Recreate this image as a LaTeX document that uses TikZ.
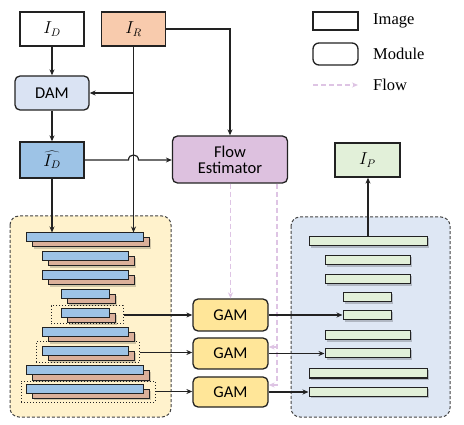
\documentclass[tikz,border=0pt]{standalone}
\usepackage{fontspec}
\setmainfont{Liberation Serif}
\newfontfamily\carlito{Carlito}
\usetikzlibrary{arrows.meta}
\definecolor{lc}{HTML}{222222}
\definecolor{orangef}{HTML}{F8CBAD}
\definecolor{damf}{HTML}{DAE3F3}
\definecolor{idhf}{HTML}{9DC3E6}
\definecolor{fef}{RGB}{221,193,223}
\definecolor{greenf}{HTML}{E2F0D9}
\definecolor{gamf}{HTML}{FFE699}
\definecolor{yellowbg}{HTML}{FFF2CC}
\definecolor{bluebg}{HTML}{DEE7F4}
\definecolor{flowc}{RGB}{222,196,228}
\definecolor{tanf}{RGB}{219,176,154}
\begin{document}
\begin{tikzpicture}[x=1pt,y=-1pt,
  box/.style={draw=lc, line width=1.3pt, inner sep=0pt},
  modbox/.style={box, rounded corners=5pt},
  sansl/.style={font=\carlito\fontsize{16.5}{19}\selectfont},
  mathl/.style={font=\fontsize{16}{19}\selectfont},
  legl/.style={font=\fontsize{16.5}{19}\selectfont, anchor=west, inner sep=3pt},
  arr/.style={draw=lc, line width=1.2pt, -{Stealth[length=6pt,width=5pt]}},
  flow/.style={draw=flowc, line width=1.3pt, dash pattern=on 5pt off 3pt, -{Stealth[length=6pt,width=5pt]}},
  group/.style={draw=lc!85, line width=1pt, dash pattern=on 3pt off 2pt, rounded corners=9pt},
  dotbox/.style={draw=lc, line width=1pt, dotted, inner sep=0pt},
  bluebar/.style={box, line width=1pt, fill=idhf},
  greenbar/.style={box, line width=1pt, fill=greenf},
]
\useasboundingbox (0,0) rectangle (464,425);

% group backgrounds
\draw[group, fill=yellowbg] (10,216) rectangle (171,417);
\draw[group, fill=bluebg] (291,217) rectangle (450,417);

% top nodes
\node[box, fill=white, minimum width=64pt, minimum height=34pt, mathl] (ID) at (52,29) {$I_D$};
\node[box, fill=orangef, minimum width=64pt, minimum height=34pt, mathl] (IR) at (133.5,29) {$I_R$};
\node[modbox, fill=damf, minimum width=74pt, minimum height=34pt, sansl] (DAM) at (52,93) {DAM};
\node[box, fill=idhf, minimum width=64pt, minimum height=36pt, mathl] (IDh) at (52,160) {$\widehat{I_D}$};
\node[modbox, fill=fef, minimum width=115pt, minimum height=47pt, sansl, align=center] (FE) at (230,159.5) {Flow\\[-3pt]Estimator};
\node[box, fill=greenf, minimum width=65pt, minimum height=34pt, mathl] (IP) at (367.5,160) {$I_P$};

% GAM modules
\node[modbox, fill=gamf, minimum width=75pt, minimum height=32pt, sansl] (GAM1) at (230.5,315) {GAM};
\node[modbox, fill=gamf, minimum width=75pt, minimum height=31pt, sansl] (GAM2) at (230.5,353.5) {GAM};
\node[modbox, fill=gamf, minimum width=75pt, minimum height=30pt, sansl] (GAM3) at (230.5,392) {GAM};

% dotted selection boxes
\node[dotbox, minimum width=72pt, minimum height=18pt] (d5) at (87,315) {};
\node[dotbox, minimum width=103pt, minimum height=21pt] (d7) at (87.5,352.5) {};
\node[dotbox, minimum width=134pt, minimum height=21pt] (d9) at (88,391.5) {};

% blue encoder bars with tan shadow
\foreach \n/\xa/\xb/\ya in {1/26/143/233, 2/42/128/252, 3/42/128/271, 4/61/109/290, 5/61/109/309, 6/42/128/328, 7/42/128/347, 8/26/143/366, 9/26/143/384}{
  \fill[black, opacity=0.18] ({\xa+7.5},{\ya+6.5}) rectangle ({\xb+7.8},{\ya+15.8});
  \draw[draw=lc, line width=1pt, fill=tanf] ({\xa+6},{\ya+5}) rectangle ({\xb+6},{\ya+14});
  \node[bluebar, minimum width={(\xb-\xa)*1pt}, minimum height=9pt] (b\n) at ({(\xa+\xb)/2},{\ya+4.5}) {};
}

% green decoder bars
\foreach \n/\xa/\xb/\ya in {1/309/427/237, 2/325/410/256, 3/325/410/275, 4/343/391/293, 5/343/391/311, 6/325/410/331, 7/325/410/349, 8/309/427/369, 9/309/427/387}{
  \fill[black, opacity=0.2] ({\xa+1.5},{\ya+1.5}) rectangle ({\xb+1.8},{\ya+10.8});
  \node[greenbar, minimum width={(\xb-\xa)*1pt}, minimum height=9pt] (g\n) at ({(\xa+\xb)/2},{\ya+4.5}) {};
}

% connectors
\draw[arr] (ID.south) -- (DAM.north);
\draw[arr] (DAM.south) -- (IDh.north);
\draw[arr] (IR.south) -- (IR.south |- b1.north);
\draw[arr] (IR.south |- DAM.east) -- (DAM.east);
\draw[arr] (IR.east) -| (FE.north);
\coordinate (hop) at (IDh.east -| IR.south);
\draw[arr] (IDh.east) -- ([xshift=-5pt]hop) .. controls ([xshift=-5pt,yshift=6.7pt]hop) and ([xshift=5pt,yshift=6.7pt]hop) .. ([xshift=5pt]hop) -- (FE.west |- IDh.east);
\draw[arr] (IDh.south) -- (IDh.south |- b1.north);

\draw[flow] (FE.south -| GAM1.north) -- (GAM1.north);
\coordinate (f2) at ([xshift=47pt]FE.south);
\draw[flow] (f2) |- ([yshift=7pt]GAM3.east);
\draw[flow] ([yshift=6.5pt]GAM2.east -| f2) -- ([yshift=6.5pt]GAM2.east);

\draw[arr] (d5.east) -- (d5.east -| GAM1.west);
\draw[arr] (d7.east) -- (d7.east -| GAM2.west);
\draw[arr] (d9.east) -- (d9.east -| GAM3.west);

\draw[arr] (GAM1.east) -- (GAM1.east -| g5.west);
\draw[arr] (GAM2.east) -- (GAM2.east -| g7.west);
\draw[arr] (GAM3.east) -- (GAM3.east -| g9.west);

\draw[arr] (g1.north) -- (g1.north |- IP.south);

% legend
\node[box, minimum width=45pt, minimum height=18pt] (lgI) at (335.5,21) {};
\node[legl] (tI) at (370,21) {Image};
\node[box, rounded corners=6pt, minimum width=45pt, minimum height=22pt] (lgM) at (335.5,54) {};
\node[legl] (tM) at (370,54) {Module};
\coordinate (lgFa) at (313,85);
\coordinate (lgFb) at (358,85);
\draw[flow] (lgFa) -- (lgFb);
\node[legl] (tF) at (370,85) {Flow};
\end{tikzpicture}
\end{document}
